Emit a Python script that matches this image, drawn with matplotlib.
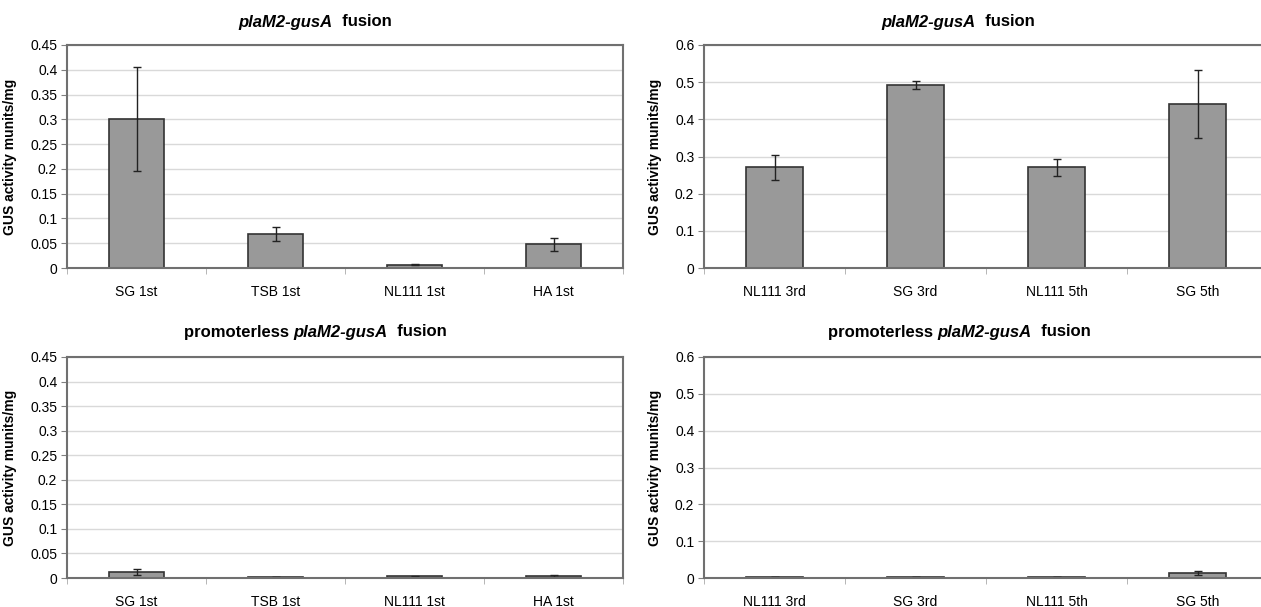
import matplotlib
matplotlib.use('Agg')
import matplotlib.pyplot as plt
import matplotlib.transforms as mtransforms
import numpy as np
from matplotlib.ticker import FuncFormatter, FixedLocator

plt.rcParams['font.family'] = ['Liberation Sans', 'DejaVu Sans']

# data
labels_1st = ['SG 1st', 'TSB 1st', 'NL111 1st', 'HA 1st']
labels_late = ['NL111 3rd', 'SG 3rd', 'NL111 5th', 'SG 5th']

fus_1st = [0.300, 0.069, 0.007, 0.048]
fus_1st_err = [0.105, 0.014, 0.001, 0.013]
fus_late = [0.271, 0.492, 0.271, 0.441]
fus_late_err = [0.034, 0.011, 0.023, 0.092]

prom_1st = [0.013, 0.002, 0.004, 0.004]
prom_1st_err = [0.006, 0.0005, 0.001, 0.002]
prom_late = [0.003, 0.003, 0.003, 0.014]
prom_late_err = [0.001, 0.001, 0.001, 0.006]

W, H = 1261, 607
fig = plt.figure(figsize=(W / 100, H / 100), dpi=100)


def panel(rect, labels, vals, errs, ymax, ystep, ylabel_x):
    ax = fig.add_axes(rect)
    x = np.arange(len(labels))
    ax.set_axisbelow(True)
    ax.yaxis.grid(True, color='#d9d9d9', lw=1)
    ax.bar(x, vals, width=0.4, color='#999999', edgecolor='#333333', lw=1.2,
           yerr=errs, capsize=3, error_kw=dict(ecolor='#222222', elinewidth=1, capthick=1))
    ax.set_xlim(-0.5, len(labels) - 0.5)
    ax.set_ylim(0, ymax)
    ax.set_yticks(np.arange(0, ymax + ystep / 2, ystep))
    ax.yaxis.set_major_formatter(FuncFormatter(lambda v, p: '{:g}'.format(round(v, 3))))
    ax.set_xticks(x)
    ax.set_xticklabels(labels)
    ax.xaxis.set_minor_locator(FixedLocator(np.arange(-0.5, len(labels), 1.0)))
    ax.tick_params(axis='x', which='major', length=0, pad=12, labelsize=10)
    ax.tick_params(axis='x', which='minor', length=4, color='#aaaaaa')
    ax.tick_params(axis='y', length=4, color='#808080', labelsize=10, pad=3)
    for s in ax.spines.values():
        s.set_color('#707070')
        s.set_linewidth(1.5)
    ax.set_ylabel('GUS activity munits/mg', fontsize=10, fontweight='bold')
    tr = mtransforms.blended_transform_factory(fig.transFigure, ax.transAxes)
    ax.yaxis.set_label_coords(ylabel_x, 0.5, transform=tr)
    return ax


panel([67 / W, 1 - 268 / H, 556 / W, 223 / H], labels_1st, fus_1st, fus_1st_err, 0.45, 0.05, 17 / W)
panel([704 / W, 1 - 268 / H, 564 / W, 223 / H], labels_late, fus_late, fus_late_err, 0.6, 0.1, 662 / W)
panel([67 / W, 1 - 578 / H, 556 / W, 221 / H], labels_1st, prom_1st, prom_1st_err, 0.45, 0.05, 17 / W)
panel([704 / W, 1 - 578 / H, 564 / W, 221 / H], labels_late, prom_late, prom_late_err, 0.6, 0.1, 662 / W)


def mixed_title(parts, cx, cy):
    # parts: (text, fontstyle) pieces laid side by side, centred at pixel (cx, cy)
    texts = [fig.text(0, 0, s, fontsize=12, fontweight='bold', fontstyle=st,
                      va='center', ha='left') for s, st in parts]
    fig.canvas.draw()
    r = fig.canvas.get_renderer()
    widths = [t.get_window_extent(r).width for t in texts]
    x0 = cx - sum(widths) / 2
    for t, w in zip(texts, widths):
        t.set_position((x0 / W, 1 - cy / H))
        x0 += w


mixed_title([('plaM2-gusA', 'italic'), ('  fusion', 'normal')], 315, 22)
mixed_title([('plaM2-gusA', 'italic'), ('  fusion', 'normal')], 958, 22)
mixed_title([('promoterless ', 'normal'), ('plaM2-gusA', 'italic'), ('  fusion', 'normal')], 315, 332)
mixed_title([('promoterless ', 'normal'), ('plaM2-gusA', 'italic'), ('  fusion', 'normal')], 959, 332)

fig.savefig('out.png', dpi=100)
